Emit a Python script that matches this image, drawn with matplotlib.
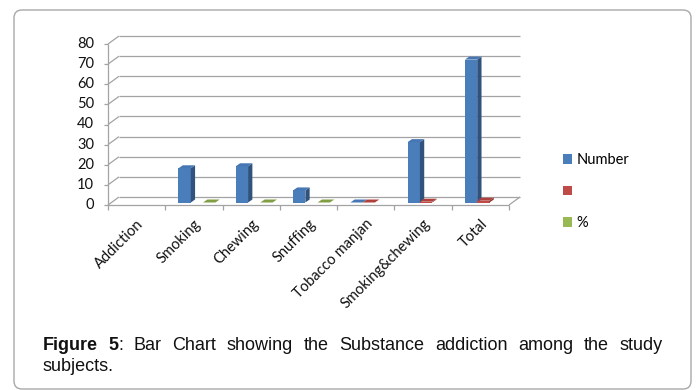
import numpy as np
import matplotlib
matplotlib.use("Agg")
import matplotlib.pyplot as plt
from matplotlib.patches import Polygon, Patch, FancyBboxPatch
from matplotlib.transforms import IdentityTransform

# ---- data ----
categories = ["Addiction", "Smoking", "Chewing", "Snuffing",
              "Tobacco manjan", "Smoking&chewing", "Total"]
number_vals = [np.nan, 17, 18, 6, 0, 30, 71]
blank_vals = [np.nan, np.nan, np.nan, np.nan, 0, 0.4, 0.9]
percent_vals = [np.nan, 0, 0, 0, np.nan, np.nan, np.nan]
series_names = ["Number", "", "%"]
y_ticks = list(range(0, 81, 10))
caption_line1 = ["Bar", "Chart", "showing", "the", "Substance",
                 "addiction", "among", "the", "study"]
caption_line2 = "subjects."

# ---- styling ----
W, H = 697, 390
CHART_FONT = ["Lato", "DejaVu Sans"]
CAP_FONT = ["Liberation Sans", "DejaVu Sans"]
GRID = "#A3A3A3"
series_colors = [
    # front, side, top
    ("#4A7EBB", "#30527D", "#4677B4"),
    ("#BE4B48", "#8A3230", "#B0403C"),
    ("#98B954", "#6E873A", "#819E45"),
]

fig = plt.figure(figsize=(W / 100, H / 100), dpi=100)
fig.patch.set_facecolor("white")

# front plane of the 3-D box, in pixels
left_px, right_px, base_px, top_px = 108, 509, 205, 44
ax = fig.add_axes([left_px / W, 1 - base_px / H,
                   (right_px - left_px) / W, (base_px - top_px) / H])
ax.set_xlim(-0.5, len(categories) - 0.5)
ax.set_ylim(0, 80)
ax.axis("off")

px_x = (right_px - left_px) / len(categories)
px_y = (base_px - top_px) / 80.0


def dxp(p):
    return p / px_x


def dyp(p):
    return p / px_y


x0, x1 = -0.5, len(categories) - 0.5
BX, BY = dxp(11), dyp(8)          # depth of the back wall
lk = dict(color=GRID, lw=0.9, clip_on=False, zorder=1, solid_capstyle="butt")

# back wall gridlines and left wall diagonals
for v in y_ticks:
    ax.plot([x0 + BX, x1 + BX], [v + BY, v + BY], **lk)
    ax.plot([x0, x0 + BX], [v, v + BY], **lk)
    ax.plot([x0 - dxp(3.5), x0], [v, v], **lk)
    ax.text(x0 - dxp(14), v, str(v), ha="right", va="center",
            fontsize=10.5, family=CHART_FONT, color="#111111")

# floor edges and front axis
ax.plot([x0, x1], [0, 0], **lk)
ax.plot([x1, x1 + BX], [0, BY], **lk)
ax.plot([x0, x0], [0, 80], **lk)
for b in np.arange(x0, x1 + 0.01, 1.0):
    ax.plot([b, b], [0, -dyp(5)], **lk)

# category labels
for i, name in enumerate(categories):
    ax.annotate(name, xy=(i, 0), xytext=(5, -17), textcoords="offset pixels",
                rotation=45, rotation_mode="anchor", ha="right", va="center",
                fontsize=10.5, family=CHART_FONT, color="#111111",
                annotation_clip=False)

# 3-D style columns
bw = dxp(12.3)
PX, PY = dxp(3), dyp(2.5)          # column plane inside the box
DX, DY = dxp(4.3), dyp(3)          # column depth
all_series = [number_vals, blank_vals, percent_vals]
for k, (vals, (cf, cs, ct)) in enumerate(zip(all_series, series_colors)):
    idx = [i for i, v in enumerate(vals) if not np.isnan(v)]
    xs = np.array([i + (k - 1) * bw + PX for i in idx])
    hs = np.array([vals[i] for i in idx])
    ax.bar(xs, hs, width=bw, bottom=PY, color=cf, linewidth=0,
           clip_on=False, zorder=3)
    for xc, h in zip(xs, hs):
        xl, xr = xc - bw / 2, xc + bw / 2
        yb, yt = PY, PY + h
        side = Polygon([(xr, yb), (xr + DX, yb + DY), (xr + DX, yt + DY),
                        (xr, yt)], closed=True, facecolor=cs, edgecolor="none",
                       clip_on=False, zorder=3)
        top = Polygon([(xl, yt), (xr, yt), (xr + DX, yt + DY),
                       (xl + DX, yt + DY)], closed=True, facecolor=ct,
                      edgecolor="none", clip_on=False, zorder=3)
        ax.add_patch(side)
        ax.add_patch(top)

# legend
handles = [Patch(facecolor=c[0], edgecolor="none") for c in series_colors]
fig.legend(handles, series_names, loc="upper left",
           bbox_to_anchor=(563 / W, 1 - 153 / H), frameon=False,
           prop={"family": CHART_FONT, "size": 10.5},
           handlelength=0.62, handleheight=0.62, labelspacing=1.2,
           handletextpad=0.3, borderpad=0, borderaxespad=0)

# outer rounded frame
frame = FancyBboxPatch((14, 1), 677, 379,
                       boxstyle="round,pad=0,rounding_size=8",
                       transform=IdentityTransform(), facecolor="none",
                       edgecolor="#A8A8A8", lw=1.0)
fig.add_artist(frame)

# caption, justified on the first line
renderer = fig.canvas.get_renderer()
cap_left, cap_right = 42.5, 662.5
base1, base2 = H - 350, H - 371
cap_kw = dict(fontsize=13, family=CAP_FONT, color="#111111",
              va="baseline", ha="left", transform=IdentityTransform())

t_fig = fig.text(0, 0, "Figure", fontweight="bold", **cap_kw)
t_5 = fig.text(0, 0, "5", fontweight="bold", **cap_kw)
t_col = fig.text(0, 0, ":", **cap_kw)
word_texts = [fig.text(0, 0, w, **cap_kw) for w in caption_line1]


def width(t):
    return t.get_window_extent(renderer).width


groups = [[t_fig], [t_5, t_col]] + [[t] for t in word_texts]
gw = [sum(width(t) for t in g) for g in groups]
gap = (cap_right - cap_left - sum(gw)) / (len(groups) - 1)
x = cap_left
for g, w in zip(groups, gw):
    xx = x
    for t in g:
        t.set_position((xx, base1))
        xx += width(t)
    x += w + gap

fig.text(cap_left, base2, caption_line2, **cap_kw)

fig.savefig("out.png", dpi=100, facecolor="white")
